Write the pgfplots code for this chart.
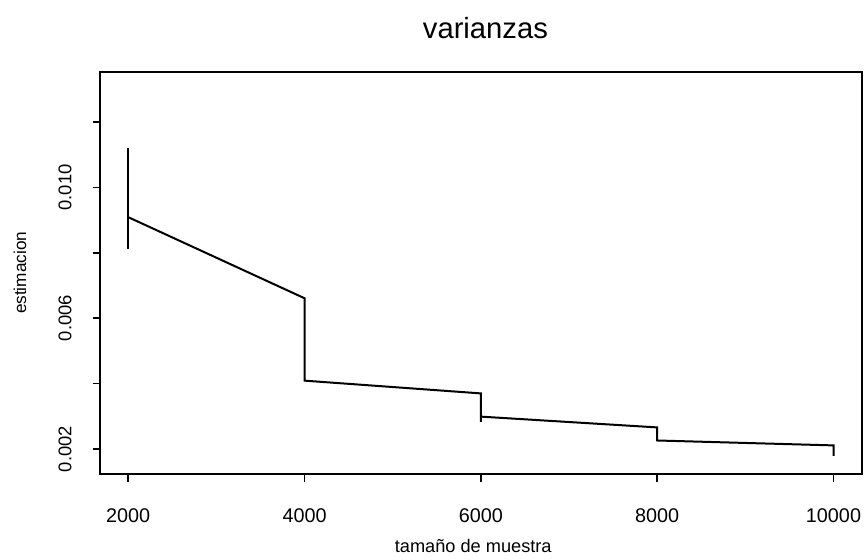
\documentclass[border=0pt]{standalone}
\usepackage{fontspec}
\setmainfont{Liberation Sans}
\usepackage{pgfplots}
\pgfplotsset{compat=1.18}
\begin{document}
\begin{tikzpicture}
\useasboundingbox (0,0) rectangle (432.5pt,279.5pt);
\begin{axis}[
  at={(50pt,42.5pt)}, anchor=south west,
  scale only axis, width=380.85pt, height=201.15pt,
  xmin=1680, xmax=10320, ymin=0.001235, ymax=0.013538,
  axis line style={line width=0.9pt},
  tick style={line width=0.8pt, black},
  tick align=outside, major tick length=3.75pt,
  xtick={2000,4000,6000,8000,10000},
  xticklabels={2000,4000,6000,8000,10000},
  ytick={0.002,0.004,0.006,0.008,0.010,0.012},
  yticklabels={0.002,,0.006,,0.010,},
  scaled x ticks=false, scaled y ticks=false,
  xtick pos=bottom, ytick pos=left,
  xticklabel style={font=\fontsize{9.9}{12}\selectfont},
  yticklabel style={font=\fontsize{9.2}{11}\selectfont, rotate=90, anchor=south},
  xticklabel shift=10pt, yticklabel shift=7pt,
  title={varianzas},
  title style={at={(rel axis cs:0.506,1.079)}, anchor=center, font=\fontsize{14.6}{17}\selectfont},
  xlabel={tamaño de muestra},
  xlabel style={at={(rel axis cs:0.49,-0.179)}, anchor=center, font=\fontsize{9.1}{11}\selectfont},
  ylabel={estimacion},
  ylabel style={at={(rel axis cs:-0.105,0.5)}, anchor=center, font=\fontsize{8.6}{10}\selectfont},
]
\addplot[black, line width=1pt] coordinates {(2000,0.01120) (2000,0.00812)};
\addplot[black, line width=1pt] coordinates {
(2000,0.00909) (4000,0.00661) (4000,0.00409) (6000,0.00370) (6000,0.00283) (6000,0.00299)
(8000,0.00266) (8000,0.00226) (10000,0.00211) (10000,0.00179)};
\end{axis}
\end{tikzpicture}
\end{document}
